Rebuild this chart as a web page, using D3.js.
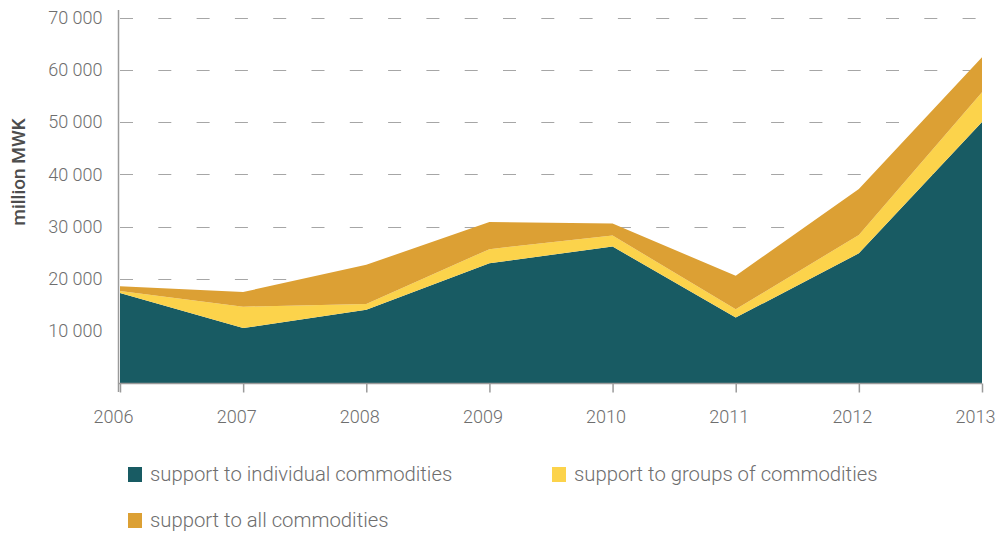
<!DOCTYPE html>
<html>
<head>
<meta charset="utf-8">
<script src="https://cdn.jsdelivr.net/npm/d3@7"></script>
<style>
  html, body { margin: 0; padding: 0; background: #fff; }
  svg { display: block; }
  text { font-family: Roboto, "Noto Sans", sans-serif; }
</style>
</head>
<body>
<svg id="chart" width="1002" height="535"></svg>
<script>
// Agricultural support by category, million MWK
const years = ["2006", "2007", "2008", "2009", "2010", "2011", "2012", "2013"];
const individualCommodities = [17300, 10600, 14100, 23000, 26200, 12600, 24900, 50000];
const groupsOfCommodities   = [400, 4100, 1100, 2700, 2100, 1600, 3500, 5700];
const allCommodities        = [900, 2800, 7500, 5200, 2300, 6400, 8800, 6700];
const seriesNames = ["support to individual commodities", "support to groups of commodities", "support to all commodities"];
const seriesColors = ["#185b63", "#fcd34b", "#dca034"];
const yTicks = [10000, 20000, 30000, 40000, 50000, 60000, 70000];

const svg = d3.select("#chart");
const margin = { left: 120, right: 20 };

const x = d3.scalePoint().domain(years).range([margin.left, 982]);
const y = d3.scaleLinear().domain([0, 70000]).range([383.5, 17.5]);

const rows = years.map((yr, i) => ({
  year: yr,
  individual: individualCommodities[i],
  groups: groupsOfCommodities[i],
  all: allCommodities[i]
}));
const keys = ["individual", "groups", "all"];
const stacked = d3.stack().keys(keys)(rows);

// dashed horizontal gridlines (behind the areas)
svg.append("g")
  .selectAll("line")
  .data(yTicks)
  .join("line")
  .attr("x1", margin.left)
  .attr("x2", 982)
  .attr("y1", d => Math.round(y(d)) + 0.5)
  .attr("y2", d => Math.round(y(d)) + 0.5)
  .attr("stroke", "#a6a6a6")
  .attr("stroke-width", 1.2)
  .attr("stroke-dasharray", "13,25.3");

// stacked areas
const area = d3.area()
  .x(d => x(d.data.year))
  .y0(d => y(d[0]))
  .y1(d => y(d[1]));

svg.append("g")
  .selectAll("path")
  .data(stacked)
  .join("path")
  .attr("d", area)
  .attr("fill", (d, i) => seriesColors[i]);

// y axis: line + labels
const yAxis = d3.axisLeft(y).tickValues(yTicks).tickSize(0).tickPadding(16)
  .tickFormat(d => d3.format(",")(d).replace(/,/g, " "));
const gy = svg.append("g").attr("transform", `translate(${margin.left - 1.5},0)`).call(yAxis);
gy.select(".domain").attr("d", "M0,10V392").attr("stroke", "#9a9a9a").attr("stroke-width", 1.5);
gy.selectAll("text")
  .attr("font-size", 18)
  .attr("font-weight", 300)
  .attr("fill", "#6e6e6e");

// x axis
const xAxis = d3.axisBottom(x).tickSize(9).tickPadding(18);
const gx = svg.append("g").attr("transform", "translate(0,383.5)").call(xAxis);
gx.select(".domain").attr("d", `M${margin.left - 2},0H982`).attr("stroke", "#9a9a9a").attr("stroke-width", 1.5);
gx.selectAll(".tick line").attr("stroke", "#9a9a9a").attr("stroke-width", 1.5);
gx.selectAll("text")
  .attr("font-size", 18)
  .attr("font-weight", 300)
  .attr("fill", "#6e6e6e")
  .attr("dx", -7);

// y axis title
svg.append("text")
  .attr("transform", "translate(25,172) rotate(-90)")
  .attr("text-anchor", "middle")
  .attr("font-size", 19)
  .attr("font-weight", 500)
  .attr("fill", "#4d4d4d")
  .text("million MWK");

// legend
const legendPos = [[128, 467], [552, 467], [128, 513]];
const lg = svg.append("g")
  .selectAll("g")
  .data(seriesNames)
  .join("g")
  .attr("transform", (d, i) => `translate(${legendPos[i][0]},${legendPos[i][1]})`);
lg.append("rect").attr("width", 14).attr("height", 15).attr("fill", (d, i) => seriesColors[i]);
lg.append("text")
  .attr("x", 22)
  .attr("y", 14)
  .attr("font-size", 20.3)
  .attr("font-weight", 300)
  .attr("fill", "#6e6e6e")
  .text(d => d);
</script>
</body>
</html>
